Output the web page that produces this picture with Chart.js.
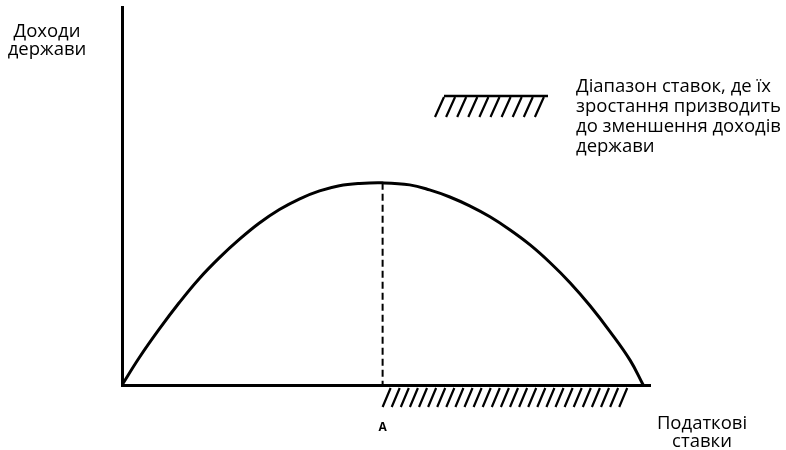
<!DOCTYPE html>
<html>
<head>
<meta charset="utf-8">
<script src="https://cdn.jsdelivr.net/npm/chart.js@4"></script>
<style>
  html, body { margin: 0; padding: 0; background: #fff; }
  #wrap { width: 786px; height: 450px; position: relative; }
</style>
</head>
<body>
<div id="wrap"><canvas id="lafferChart" width="786" height="450"></canvas></div>
<script>
// tax rate (%) and state revenue (% of peak)
const taxRates = [0, 3.3, 7.1, 11, 14.8, 18.7, 22.5, 26.3, 30.2, 34, 37.9, 41.7, 45.6, 50,
                  55.2, 59, 62.9, 66.7, 70.6, 74.4, 78.3, 82.1, 86, 89.8, 93.7, 97.5, 100];
const revenue  = [0, 13.5, 27.5, 40.8, 52.6, 63, 72, 80, 86.8, 92, 96, 98.6, 99.7, 100,
                  99, 96.5, 93, 88.6, 83.2, 76.8, 69.3, 60.6, 50.5, 39.2, 26.2, 12.2, 0];
const peakRate = 50;
const peakRevenue = 100;
const hatchRange = [50, 97.5];   // rates where raising the rate lowers revenue
const yLabel = ['Доходи', 'держави'];
const xLabel = ['Податкові', 'ставки'];
const pointLabel = 'A';
const legendText = ['Діапазон ставок, де їх', 'зростання призводить', 'до зменшення доходів', 'держави'];

const FONT = '"Open Sans", "Noto Sans", sans-serif';

const decorPlugin = {
  id: 'decor',
  afterDatasetsDraw(chart) {
    const ctx = chart.ctx;
    const xs = chart.scales.x, ys = chart.scales.y;
    const x0 = xs.getPixelForValue(peakRate);
    const yTop = ys.getPixelForValue(peakRevenue);
    const yBase = ys.getPixelForValue(0);

    ctx.save();
    // dashed line from the peak down to the axis
    ctx.strokeStyle = '#000';
    ctx.lineWidth = 2;
    ctx.setLineDash([7, 4]);
    ctx.beginPath();
    ctx.moveTo(x0, yTop);
    ctx.lineTo(x0, yBase);
    ctx.stroke();
    ctx.setLineDash([]);

    // hatching under the axis
    const hx1 = xs.getPixelForValue(hatchRange[0]);
    const hx2 = xs.getPixelForValue(hatchRange[1]);
    ctx.lineWidth = 2.2;
    ctx.beginPath();
    for (let x = hx1; x <= hx2 - 6; x += 9.1) {
      ctx.moveTo(x, yBase + 22);
      ctx.lineTo(x + 8, yBase + 3);
    }
    ctx.stroke();

    // legend hatch sample
    ctx.lineWidth = 2.5;
    ctx.beginPath();
    ctx.moveTo(444, 96);
    ctx.lineTo(548, 96);
    ctx.stroke();
    ctx.lineWidth = 2.2;
    ctx.beginPath();
    for (let i = 0; i < 10; i++) {
      const bx = 435 + i * 11.1;
      ctx.moveTo(bx, 117);
      ctx.lineTo(bx + 9, 97);
    }
    ctx.stroke();

    // texts
    ctx.fillStyle = '#000';
    ctx.textBaseline = 'middle';
    ctx.font = '18.5px ' + FONT;
    ctx.textAlign = 'left';
    legendText.forEach((t, i) => ctx.fillText(t, 576, 87 + i * 20));

    ctx.textAlign = 'center';
    yLabel.forEach((t, i) => ctx.fillText(t, 47, 32 + i * 18));
    xLabel.forEach((t, i) => ctx.fillText(t, 702, 424 + i * 18));

    ctx.font = 'bold 12px ' + FONT;
    ctx.fillText(pointLabel, x0, 428);
    ctx.restore();
  }
};

const ctx = document.getElementById('lafferChart').getContext('2d');
new Chart(ctx, {
  type: 'line',
  data: {
    datasets: [{
      data: taxRates.map((r, i) => ({ x: r, y: revenue[i] })),
      borderColor: '#000',
      borderWidth: 3,
      pointRadius: 0,
      tension: 0.4,
      fill: false
    }]
  },
  options: {
    responsive: false,
    animation: false,
    layout: { padding: { left: 122, right: 136, top: 7, bottom: 65 } },
    plugins: { legend: { display: false }, tooltip: { enabled: false } },
    scales: {
      x: {
        type: 'linear', min: 0, max: 101.3,
        grid: { display: false, drawTicks: false },
        ticks: { display: false },
        border: { display: true, color: '#000', width: 3 }
      },
      y: {
        min: 0, max: 187,
        grid: { display: false, drawTicks: false },
        ticks: { display: false },
        border: { display: true, color: '#000', width: 3 }
      }
    }
  },
  plugins: [decorPlugin]
});
</script>
</body>
</html>
